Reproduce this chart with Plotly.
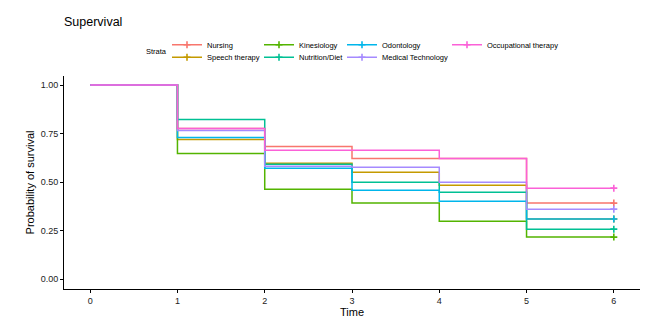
import plotly.graph_objects as go

times = [0, 1, 2, 3, 4, 5, 6]
strata = ["Nursing", "Speech therapy", "Kinesiology", "Nutrition/Diet",
          "Odontology", "Medical Technology", "Occupational therapy"]
colors = ["#F8766D", "#C49A00", "#53B400", "#00C094", "#00B6EB", "#A58AFF", "#FB61D7"]

# survival estimate after each event time (0..5); last value held to time 6
surv_nursing = [1.0, 0.776, 0.684, 0.622, 0.622, 0.392]
surv_speech = [1.0, 0.720, 0.597, 0.551, 0.484, 0.310]
surv_kinesiology = [1.0, 0.648, 0.464, 0.392, 0.299, 0.217]
surv_nutrition = [1.0, 0.823, 0.592, 0.499, 0.448, 0.258]
surv_odontology = [1.0, 0.730, 0.572, 0.458, 0.402, 0.310]
surv_medtech = [1.0, 0.766, 0.582, 0.576, 0.499, 0.361]
surv_occupational = [1.0, 0.776, 0.664, 0.664, 0.622, 0.469]
surv_all = [surv_nursing, surv_speech, surv_kinesiology, surv_nutrition,
            surv_odontology, surv_medtech, surv_occupational]

y_ticks = [0, 0.25, 0.5, 0.75, 1.0]
y_tick_labels = ["0.00", "0.25", "0.50", "0.75", "1.00"]

# the page body adds an 8px offset, so the figure is drawn 8px smaller
OFF = 8
W, H = 666 - OFF, 327 - OFF
L, T = 64 - OFF, 76 - OFF
R, B = W - (640 - OFF), H - (289 - OFF)
pw, ph = W - L - R, H - T - B
FONT = "Liberation Sans, Arial, sans-serif"

# legend layout in page pixels (left edge of each legend, row centre)
leg_left = [167, 167, 259, 259, 342, 342, 447]
leg_row = [44.7, 57.3, 44.7, 57.3, 44.7, 57.3, 44.7]

fig = go.Figure()
for i, (name, col, s) in enumerate(zip(strata, colors, surv_all)):
    ys = s + [s[-1]]
    fig.add_trace(go.Scatter(x=times, y=ys, mode="lines", line=dict(color=col, width=1.5, shape="hv"),
                             showlegend=False, hoverinfo="skip"))
for i, (name, col, s) in enumerate(zip(strata, colors, surv_all)):
    lg = "legend" if i == 0 else f"legend{i+1}"
    fig.add_trace(go.Scatter(x=[times[-1]], y=[s[-1]], mode="lines+markers", name=name,
                             line=dict(color=col, width=1.4),
                             marker=dict(symbol="cross-thin", size=5, color=col,
                                         line=dict(color=col, width=1.6)),
                             legend=lg, showlegend=True, hoverinfo="skip"))

layout_legends = {}
for i in range(7):
    key = "legend" if i == 0 else f"legend{i+1}"
    layout_legends[key] = dict(
        x=(leg_left[i] - OFF - L) / pw, xanchor="left",
        y=(H - B - (leg_row[i] - OFF)) / ph, yanchor="middle",
        orientation="v", bgcolor="rgba(0,0,0,0)", borderwidth=0,
        font=dict(family=FONT, size=7.5, color="#000"),
        itemwidth=30, tracegroupgap=0,
    )

fig.update_layout(
    width=W, height=H,
    margin=dict(l=L, r=R, t=T, b=B, autoexpand=False),
    paper_bgcolor="white", plot_bgcolor="white",
    font=dict(family=FONT, color="#000"),
    title=dict(text="Supervival", x=L / W, xanchor="left", xref="container",
               y=1 - (21.5 - OFF) / H, yanchor="middle", yref="container",
               font=dict(family=FONT, size=12.5, color="#000")),
    xaxis=dict(range=[-0.3, 6.3], tickvals=times, ticktext=[str(t) for t in times],
               showline=True, linecolor="#000", linewidth=1, ticks="outside", ticklen=3,
               tickcolor="#000", tickwidth=1, showgrid=False, zeroline=False,
               tickfont=dict(family=FONT, size=9, color="#222"),
               title=dict(text="Time", font=dict(family=FONT, size=11, color="#000"), standoff=0)),
    yaxis=dict(range=[-0.05, 1.0463], tickvals=y_ticks, ticktext=y_tick_labels,
               showline=True, linecolor="#000", linewidth=1, ticks="outside", ticklen=3,
               tickcolor="#000", tickwidth=1, showgrid=False, zeroline=False,
               tickfont=dict(family=FONT, size=9, color="#222"),
               title=dict(text="Probability of survival", font=dict(family=FONT, size=11, color="#000"),
                          standoff=3)),
    annotations=[dict(text="Strata", x=(144 - OFF - L) / pw, xref="paper", xanchor="left",
                      y=(H - B - (51 - OFF)) / ph, yref="paper", yanchor="middle", showarrow=False,
                      font=dict(family=FONT, size=7.5, color="#000"))],
    **layout_legends,
)

fig.write_html("out.html")
